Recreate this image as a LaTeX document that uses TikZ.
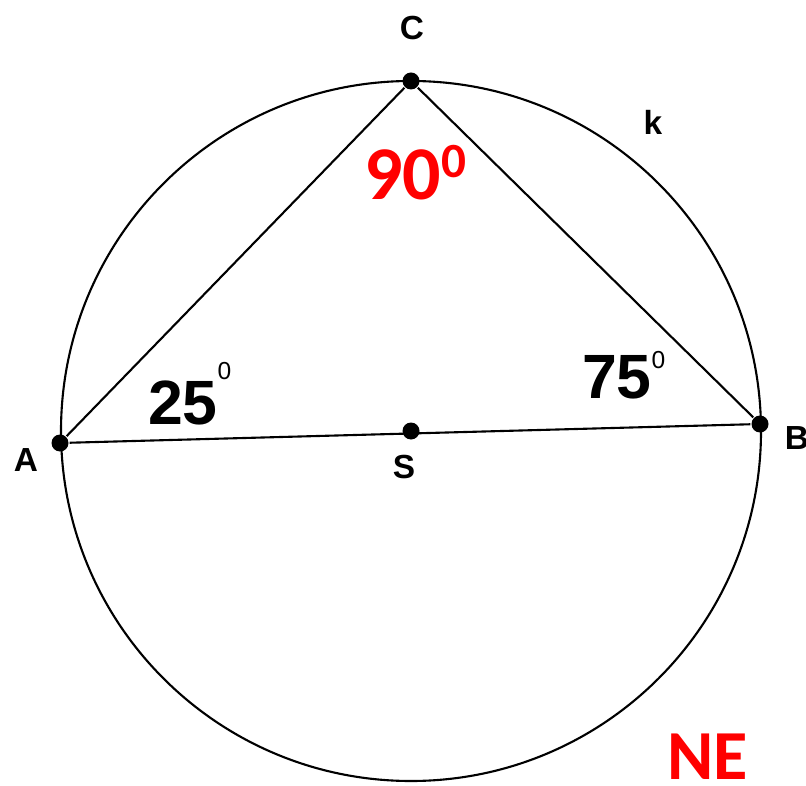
\documentclass[tikz,border=0pt]{standalone}
\usepackage{fontspec}
\setmainfont{Liberation Sans}
\newfontfamily\calibfont{Carlito}
\usepackage{tikz}
\usetikzlibrary{positioning}
\definecolor{angred}{RGB}{255,0,0}

\begin{document}
\begin{tikzpicture}[
  line width=0.6pt,
  pt/.style={circle,fill=black,inner sep=0pt,minimum size=0.17cm},
  lbl/.style={font=\bfseries\fontsize{9.5}{11}\selectfont},
  ang/.style={anchor=base west,inner sep=0pt,
              font=\bfseries\fontsize{17.8}{20}\selectfont},
  redang/.style={anchor=base west,inner sep=0pt,text=angred,
                 font=\calibfont\bfseries\fontsize{21.6}{24}\selectfont}
]
  \useasboundingbox (0,0) rectangle (8.06,7.85);

  \node[pt] (S) at (4.11,3.54) {};
  \node[pt] (A) at (0.60,3.42) {};
  \node[pt] (B) at (7.60,3.61) {};
  \node[pt] (C) at (4.11,7.04) {};

  \draw (S.center) circle (3.5);
  \draw (A) -- (C) -- (B) -- (A);

  \node[lbl] (labA) at (0.26,3.25) {A};
  \node[lbl] (labB) at (7.97,3.47) {B};
  \node[lbl] (labC) at (4.12,7.57) {C};
  \node[lbl] (labS) at (4.04,3.18) {S};
  \node[lbl] (labk) at (6.53,6.63) {k};

  \node[ang] (angA) at (1.47,3.60)
    {25\raisebox{13pt}{\mdseries\fontsize{7}{8}\selectfont 0}};
  \node[ang] (angB) at (5.81,3.87)
    {75\raisebox{8.5pt}{\mdseries\fontsize{7}{8}\selectfont 0}};
  \node[redang] (angC) at (3.63,5.85)
    {90\raisebox{6.3pt}{\fontsize{14}{16}\selectfont 0}};
  \node[redang,text depth=0pt,
        font=\calibfont\bfseries\fontsize{20}{22}\selectfont]
    (ne) at (6.66,0.06) {NE};
\end{tikzpicture}
\end{document}
